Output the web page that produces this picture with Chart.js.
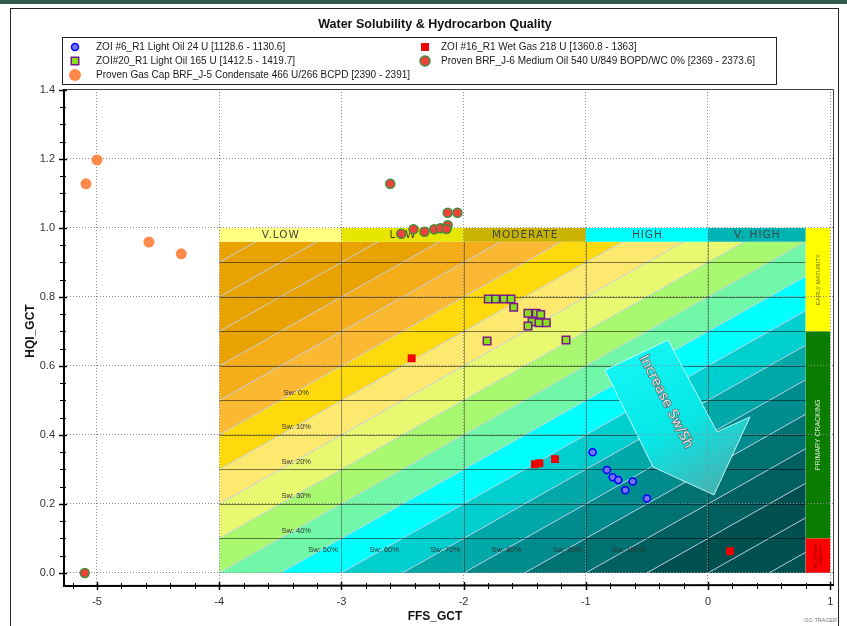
<!DOCTYPE html>
<html>
<head>
<meta charset="utf-8">
<title>Water Solubility &amp; Hydrocarbon Quality</title>
<script src="https://cdn.jsdelivr.net/npm/chart.js@4.4.1/dist/chart.umd.min.js"></script>
<style>
  html, body { margin: 0; padding: 0; background: #fff; }
  canvas { display: block; }
</style>
</head>
<body>
<canvas id="chart" width="847" height="626"></canvas>
<script>
// ---------------- data ----------------
const seriesNames = [
  'ZOI #6_R1 Light Oil 24 U [1128.6 - 1130.6]',
  'ZOI #16_R1 Wet Gas 218 U [1360.8 - 1363]',
  'ZOI#20_R1 Light Oil 165 U [1412.5 - 1419.7]',
  'Proven BRF_J-6 Medium Oil 540 U/849 BOPD/WC 0% [2369 - 2373.6]',
  'Proven Gas Cap BRF_J-5 Condensate 466 U/266 BCPD [2390 - 2391]'
];

// ZOI #6_R1 Light Oil
const zoi6X = [-0.944, -0.827, -0.780, -0.734, -0.616, -0.677, -0.499];
const zoi6Y = [0.350, 0.298, 0.277, 0.269, 0.265, 0.240, 0.216];

// ZOI #16_R1 Wet Gas
const zoi16X = [-2.425, -1.416, -1.380, -1.252, 0.180];
const zoi16Y = [0.622, 0.315, 0.318, 0.330, 0.063];

// ZOI#20_R1 Light Oil
const zoi20X = [-1.798, -1.738, -1.669, -1.612, -1.590, -1.473, -1.405, -1.369, -1.440, -1.383, -1.323, -1.473, -1.808, -1.162];
const zoi20Y = [0.794, 0.794, 0.794, 0.794, 0.770, 0.753, 0.753, 0.749, 0.728, 0.725, 0.725, 0.716, 0.672, 0.675];

// Proven BRF_J-6 Medium Oil
const j6X = [-5.10, -2.60, -2.13, -2.05, -2.51, -2.41, -2.32, -2.24, -2.19, -2.13, -2.14];
const j6Y = [0.000, 1.128, 1.044, 1.044, 0.983, 0.996, 0.989, 0.996, 0.999, 1.008, 0.997];

// Proven Gas Cap BRF_J-5 Condensate
const j5X = [-5.00, -5.09, -4.575, -4.31];
const j5Y = [1.197, 1.128, 0.959, 0.925];

// water-solubility classes along FFS_GCT
const qualityClasses = ['V.LOW', 'LOW', 'MODERATE', 'HIGH', 'V. HIGH'];
const qualityEdges = [-4, -3, -2, -1, 0, 0.8];

// maturity classes along HQI_GCT (right-hand strip)
const maturityClasses = ['EARLY MATURITY', 'PRIMARY CRACKING', 'SECONDARY CRACKING'];
const maturityEdges = [1.0, 0.7, 0.1, 0.0];

// Sw iso-lines: HQI = 0.2 * FFS + (1.2 - Sw)
const swLabels = ['Sw: 0%', 'Sw: 10%', 'Sw: 20%', 'Sw: 30%', 'Sw: 40%', 'Sw: 50%',
                  'Sw: 60%', 'Sw: 70%', 'Sw: 80%', 'Sw: 90%', 'Sw: 100%'];
const swValues = [0, 0.1, 0.2, 0.3, 0.4, 0.5, 0.6, 0.7, 0.8, 0.9, 1.0];

const arrowText = 'Increase Sw/Sh';

// ---------------- helpers ----------------
const pairs = (xs, ys) => xs.map((x, i) => ({ x: x, y: ys[i] }));
const SANS = '"Liberation Sans", Arial, sans-serif';

// band fill per 0.1 step of intercept (HQI - 0.2*FFS)
const bandColors = ['#005050', '#005f5f', '#007272', '#008c8c', '#00a8a8', '#00cfcf',
                    '#00ffff', '#70f8a8', '#a8f870', '#e8f870', '#fde870', '#feda0c',
                    '#fbb832', '#f6ad1a', '#e9a300'];
const qualityColors = ['#ffff80', '#e6e600', '#c8b400', '#00ffff', '#00b4b4'];
const maturityColors = ['#ffff00', '#0a7d00', '#ff0000'];

const zonesPlugin = {
  id: 'zones',
  beforeDraw(chart) {
    const ctx = chart.ctx;
    const sx = chart.scales.x, sy = chart.scales.y;
    const px = v => sx.getPixelForValue(v);
    const py = v => sy.getPixelForValue(v);

    ctx.save();
    ctx.fillStyle = '#ffffff';
    ctx.fillRect(0, 0, chart.width, chart.height);
    // window strip and outer frame
    ctx.fillStyle = '#2c5a46';
    ctx.fillRect(0, 0, chart.width, 4);
    ctx.strokeStyle = '#222';
    ctx.lineWidth = 1;
    ctx.strokeRect(10.5, 8.5, 828, 700);

    // ---- diagonal Sw bands ----
    const xa = -4, xb = 0.8, ya = 0, yb = 0.96;
    ctx.save();
    ctx.beginPath();
    ctx.rect(px(xa), py(yb), px(xb) - px(xa), py(ya) - py(yb));
    ctx.clip();
    for (let j = -3; j <= 19; j++) {
      const cLo = j * 0.1, cHi = (j + 1) * 0.1;
      const idx = Math.max(0, Math.min(bandColors.length - 1, j));
      ctx.fillStyle = bandColors[idx];
      ctx.beginPath();
      ctx.moveTo(px(xa), py(0.2 * xa + cLo));
      ctx.lineTo(px(xb), py(0.2 * xb + cLo));
      ctx.lineTo(px(xb), py(0.2 * xb + cHi));
      ctx.lineTo(px(xa), py(0.2 * xa + cHi));
      ctx.closePath();
      ctx.fill();
    }
    // iso lines
    ctx.strokeStyle = 'rgba(190,205,232,0.9)';
    ctx.lineWidth = 1;
    for (let j = -3; j <= 19; j++) {
      const c = j * 0.1;
      ctx.beginPath();
      ctx.moveTo(px(xa), py(0.2 * xa + c));
      ctx.lineTo(px(xb), py(0.2 * xb + c));
      ctx.stroke();
    }
    // cell lines
    ctx.strokeStyle = 'rgba(0,0,0,0.5)';
    for (let k = 1; k <= 9; k++) {
      const yy = Math.round(py(k / 10)) + 0.5;
      ctx.beginPath();
      ctx.moveTo(px(xa), yy);
      ctx.lineTo(px(xb), yy);
      ctx.stroke();
    }
    ctx.strokeStyle = 'rgba(0,0,0,0.35)';
    for (let k = -3; k <= 0; k++) {
      const xx = Math.round(px(k)) + 0.5;
      ctx.beginPath();
      ctx.moveTo(xx, py(yb));
      ctx.lineTo(xx, py(ya));
      ctx.stroke();
    }
    // Sw labels
    ctx.fillStyle = '#333';
    ctx.font = '7.5px ' + SANS;
    ctx.textAlign = 'center';
    ctx.textBaseline = 'middle';
    swLabels.forEach((txt, k) => {
      const c = 1.2 - swValues[k];
      let lx, ly;
      if (k < 5) { lx = -3.37; ly = 0.2 * lx + c; }
      else { ly = 0.07; lx = (ly - c) / 0.2; }
      ctx.fillText(txt, px(lx), py(ly) + 1);
    });
    ctx.restore();

    // ---- quality header row ----
    ctx.font = '10.5px "DejaVu Sans", sans-serif';
    ctx.textAlign = 'center';
    ctx.textBaseline = 'middle';
    if ('letterSpacing' in ctx) ctx.letterSpacing = '1px';
    qualityClasses.forEach((name, i) => {
      const l = px(qualityEdges[i]), r = px(qualityEdges[i + 1]);
      ctx.fillStyle = qualityColors[i];
      ctx.fillRect(l, py(1.0), r - l, py(0.96) - py(1.0));
      ctx.fillStyle = '#444';
      ctx.fillText(name, (l + r) / 2 + 0.5, py(0.98) + 0.5);
    });
    if ('letterSpacing' in ctx) ctx.letterSpacing = '0px';

    // ---- maturity strip ----
    const sl = px(0.8), sr = px(1.0);
    maturityClasses.forEach((name, i) => {
      const t = py(maturityEdges[i]), b = py(maturityEdges[i + 1]);
      ctx.fillStyle = maturityColors[i];
      ctx.fillRect(sl, t, sr - sl, b - t);
    });
    const stripText = (lines, yv, size, color) => {
      ctx.save();
      ctx.translate((sl + sr) / 2, py(yv));
      ctx.rotate(-Math.PI / 2);
      ctx.fillStyle = color;
      ctx.font = size + 'px ' + SANS;
      ctx.textAlign = 'center';
      ctx.textBaseline = 'middle';
      lines.forEach((ln, i) => ctx.fillText(ln, 0, (i - (lines.length - 1) / 2) * (size + 1)));
      ctx.restore();
    };
    stripText([maturityClasses[0]], 0.85, 6, '#6e6e00');
    stripText([maturityClasses[1]], 0.4, 7, '#d8ecd8');
    stripText(maturityClasses[2].split(' '), 0.05, 4, '#8a0000');

    // ---- direction arrow ----
    const arrow = [[-0.843, 0.588], [-0.327, 0.675], [0.074, 0.409], [0.344, 0.452],
                   [0.049, 0.226], [-0.450, 0.307]];
    const g = ctx.createLinearGradient(px(-0.6), py(0.66), px(0.1), py(0.25));
    g.addColorStop(0, '#14f6f6');
    g.addColorStop(0.55, '#08e6e6');
    g.addColorStop(1, '#44b4b4');
    ctx.fillStyle = g;
    ctx.beginPath();
    arrow.forEach((p, i) => (i ? ctx.lineTo(px(p[0]), py(p[1])) : ctx.moveTo(px(p[0]), py(p[1]))));
    ctx.closePath();
    ctx.fill();
    ctx.strokeStyle = 'rgba(215,255,255,0.85)';
    ctx.lineWidth = 1;
    ctx.stroke();
    ctx.save();
    ctx.translate(px(-0.344), py(0.496));
    ctx.rotate(63 * Math.PI / 180);
    ctx.font = '13.5px "DejaVu Sans", sans-serif';
    ctx.textAlign = 'center';
    ctx.textBaseline = 'middle';
    ctx.lineWidth = 1.6;
    ctx.strokeStyle = 'rgba(90,90,90,0.85)';
    ctx.strokeText(arrowText, 0, 0);
    ctx.fillStyle = '#e2e2e2';
    ctx.fillText(arrowText, 0, 0);
    ctx.restore();

    ctx.restore();
  },
  afterDraw(chart) {
    const ctx = chart.ctx;
    const sx = chart.scales.x, sy = chart.scales.y;
    const area = chart.chartArea;
    ctx.save();

    // plot frame
    ctx.strokeStyle = '#444';
    ctx.lineWidth = 1;
    ctx.beginPath();
    ctx.moveTo(area.left, area.top + 0.5);
    ctx.lineTo(area.right + 0.5, area.top + 0.5);
    ctx.lineTo(area.right + 0.5, area.bottom);
    ctx.stroke();
    // axis lines
    ctx.strokeStyle = '#000';
    ctx.lineWidth = 2;
    ctx.beginPath();
    ctx.moveTo(area.left, area.top);
    ctx.lineTo(area.left, area.bottom + 1);
    ctx.lineTo(area.right + 1, area.bottom);
    ctx.stroke();

    // major / minor tick marks
    ctx.lineWidth = 1;
    for (let i = -26; i <= 5; i++) {
      const v = i / 5;
      const x = Math.round(sx.getPixelForValue(v)) + 0.5;
      if (x < area.left + 2 || x > area.right) continue;
      const major = i % 5 === 0;
      ctx.lineWidth = major ? 1.5 : 1;
      ctx.beginPath();
      ctx.moveTo(x, area.bottom - (major ? 3 : 2));
      ctx.lineTo(x, area.bottom + (major ? 5 : 4));
      ctx.stroke();
    }
    for (let i = 0; i <= 28; i++) {
      const v = i / 20;
      const y = Math.round(sy.getPixelForValue(v)) + 0.5;
      const major = i % 4 === 0;
      ctx.lineWidth = major ? 1.5 : 1;
      ctx.beginPath();
      ctx.moveTo(area.left - (major ? 5 : 4), y);
      ctx.lineTo(area.left + (major ? 3 : 2), y);
      ctx.stroke();
    }

    // title
    ctx.fillStyle = '#111';
    ctx.textAlign = 'center';
    ctx.textBaseline = 'middle';
    ctx.font = 'bold 12.5px ' + SANS;
    ctx.fillText('Water Solubility & Hydrocarbon Quality', 435, 25);

    // axis titles
    ctx.font = 'bold 12px ' + SANS;
    ctx.fillText('FFS_GCT', 435, 617);
    ctx.save();
    ctx.translate(31, 331);
    ctx.rotate(-Math.PI / 2);
    ctx.fillText('HQI_GCT', 0, 0);
    ctx.restore();

    ctx.font = '5.5px ' + SANS;
    ctx.fillStyle = '#777';
    ctx.textAlign = 'right';
    ctx.fillText('GC-TRACER', 837, 620);

    // legend
    ctx.fillStyle = '#fff';
    ctx.fillRect(62, 37, 714, 47);
    ctx.strokeStyle = '#222';
    ctx.lineWidth = 1;
    ctx.strokeRect(62.5, 37.5, 714, 47);
    const slots = [[75, 47], [425, 47], [75, 61], [425, 61], [75, 75]];
    const byName = {};
    chart.data.datasets.forEach(ds => { byName[ds.label] = ds; });
    ctx.font = '10px ' + SANS;
    ctx.textAlign = 'left';
    ctx.textBaseline = 'middle';
    seriesNames.forEach((name, i) => {
      const ds = byName[name];
      const [mx, my] = slots[i];
      ctx.fillStyle = ds.backgroundColor;
      ctx.strokeStyle = ds.borderColor;
      ctx.lineWidth = ds.borderWidth;
      Chart.helpers.drawPoint(ctx, {
        pointStyle: ds.pointStyle,
        radius: ds.legendRadius,
        rotation: 0,
        borderWidth: ds.borderWidth
      }, mx, my);
      ctx.fillStyle = '#1a1a1a';
      ctx.fillText(name, mx + (mx < 200 ? 21 : 16), my);
    });

    ctx.restore();
  }
};

new Chart(document.getElementById('chart'), {
  type: 'scatter',
  data: {
    datasets: [
      { label: seriesNames[4], data: pairs(j5X, j5Y), pointStyle: 'circle', pointRadius: 5.5,
        legendRadius: 6, backgroundColor: '#ff8a4c', borderColor: '#ff8a4c', borderWidth: 0 },
      { label: seriesNames[3], data: pairs(j6X, j6Y), pointStyle: 'circle', pointRadius: 4.5,
        legendRadius: 5, backgroundColor: '#f0423c', borderColor: '#3e8e3e', borderWidth: 1.5 },
      { label: seriesNames[2], data: pairs(zoi20X, zoi20Y), pointStyle: 'rect', pointRadius: 5.3,
        legendRadius: 5.3, backgroundColor: '#86e01e', borderColor: '#7a1a8a', borderWidth: 1.5 },
      { label: seriesNames[1], data: pairs(zoi16X, zoi16Y), pointStyle: 'rect', pointRadius: 5.6,
        legendRadius: 5.6, backgroundColor: '#f00000', borderColor: '#f00000', borderWidth: 0 },
      { label: seriesNames[0], data: pairs(zoi6X, zoi6Y), pointStyle: 'circle', pointRadius: 3.5,
        legendRadius: 3.5, backgroundColor: '#7474ff', borderColor: '#0000ff', borderWidth: 1.5 }
    ]
  },
  options: {
    responsive: false,
    animation: false,
    devicePixelRatio: 1,
    events: [],
    layout: { padding: { top: 89, right: 14, bottom: 0, left: 0 } },
    plugins: { legend: { display: false }, tooltip: { enabled: false }, title: { display: false } },
    scales: {
      x: {
        type: 'linear',
        min: -5.27,
        max: 1.023,
        afterFit(scale) { scale.height = 41; },
        ticks: {
          stepSize: 1, includeBounds: false, autoSkip: false, maxRotation: 0,
          color: '#333', padding: 10,
          font: { family: SANS, size: 11 },
          callback: v => String(Math.round(v))
        },
        grid: { color: '#8c8c8c', lineWidth: 1, drawTicks: false },
        border: { display: false, dash: [1, 2] }
      },
      y: {
        type: 'linear',
        min: -0.035,
        max: 1.4027,
        afterFit(scale) { scale.width = 64; },
        ticks: {
          stepSize: 0.2, includeBounds: false, autoSkip: false,
          color: '#333', padding: 9,
          font: { family: SANS, size: 11 },
          callback: v => Number(v).toFixed(1)
        },
        grid: { color: '#8c8c8c', lineWidth: 1, drawTicks: false },
        border: { display: false, dash: [1, 2] }
      }
    }
  },
  plugins: [zonesPlugin]
});
</script>
</body>
</html>
